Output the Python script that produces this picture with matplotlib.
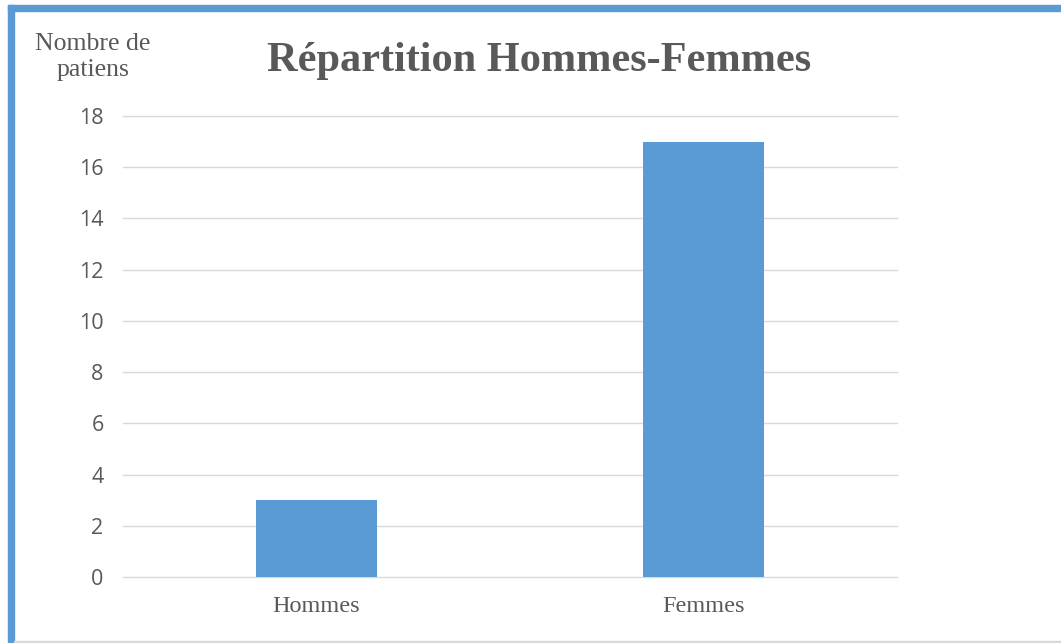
import matplotlib.pyplot as plt
from matplotlib.patches import Rectangle

categories = ['Hommes', 'Femmes']
counts = [3, 17]
yticks = [0, 2, 4, 6, 8, 10, 12, 14, 16, 18]

W, H = 1061, 643
fig = plt.figure(figsize=(W / 100, H / 100), dpi=100)
fig.patch.set_facecolor('white')

# frame of the original picture (blue left/top, grey bottom)
fig.patches.append(Rectangle((8 / W, 0), 6 / W, 1 - 5 / H, transform=fig.transFigure,
                             color='#5b9bd5', zorder=5))
fig.patches.append(Rectangle((8 / W, 1 - 11 / H), 1 - 8 / W, 6 / H, transform=fig.transFigure,
                             color='#5b9bd5', zorder=5))
fig.patches.append(Rectangle((14 / W, 0), 1 - 14 / W, 2 / H, transform=fig.transFigure,
                             color='#d9d9d9', zorder=5))

ax = fig.add_axes([123 / W, 1 - 577 / H, (897 - 123) / W, (577 - 116) / H])
x = range(len(categories))
ax.bar(x, counts, width=0.315, color='#5b9bd5', zorder=3)
ax.set_xlim(-0.5, 1.5)
ax.set_ylim(0, 18)
ax.set_yticks(yticks)
ax.set_xticks(list(x))
ax.set_xticklabels(categories, family='Liberation Serif', fontsize=17.5, color='#595959')
ax.tick_params(axis='y', labelsize=15.5, labelcolor='#595959', length=0, pad=14)
ax.tick_params(axis='x', length=0, pad=14)
for lab in ax.get_yticklabels():
    lab.set_family('Open Sans')
ax.grid(axis='y', color='#d9d9d9', linewidth=1, zorder=0)
for line in ax.get_ygridlines():
    line.set_clip_on(False)
for s in ax.spines.values():
    s.set_visible(False)

fig.text(539 / W, 1 - 61 / H, 'Répartition Hommes-Femmes', ha='center', va='center',
         family='Liberation Serif', fontweight='bold', fontsize=30.5, color='#595959')
fig.text(93 / W, 1 - 57 / H, 'Nombre de\npatiens', ha='center', va='center',
         family='Liberation Serif', fontsize=18.5, color='#595959', linespacing=1.2)

fig.savefig('out.png', dpi=100)
